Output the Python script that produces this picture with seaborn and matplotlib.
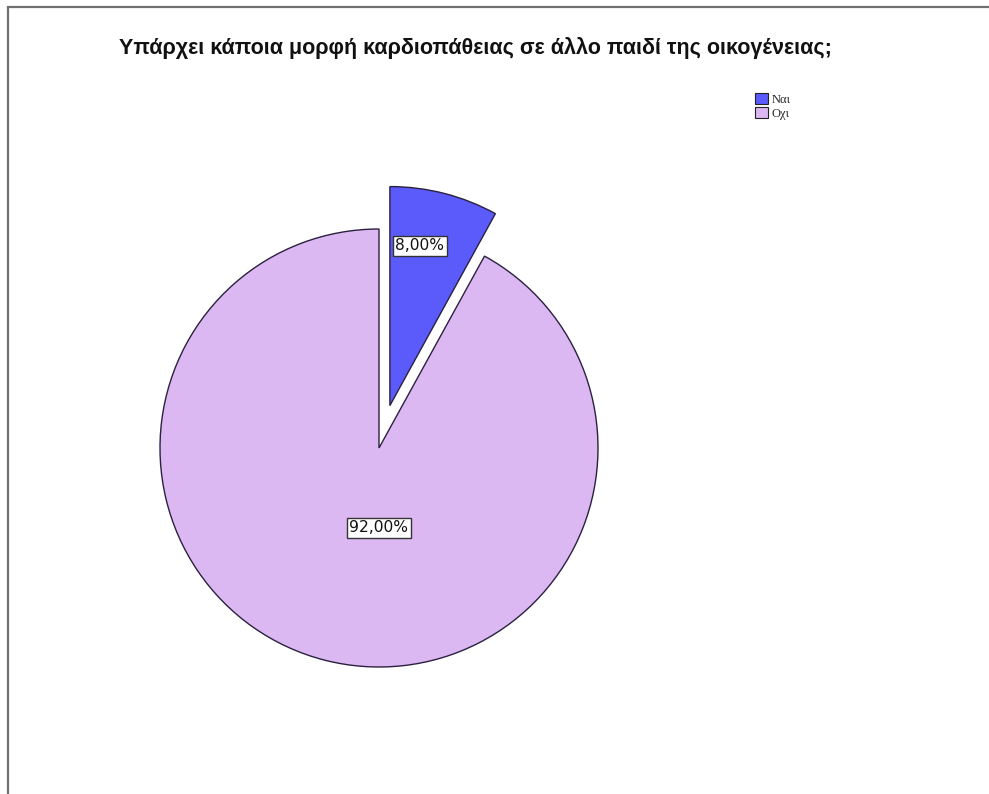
import matplotlib
matplotlib.use("Agg")
import matplotlib.pyplot as plt
from matplotlib.patches import Rectangle
import seaborn as sns

sns.set_theme(style="white")
plt.rcParams["font.family"] = ["Liberation Sans", "DejaVu Sans"]

title = "Υπάρχει κάποια μορφή καρδιοπάθειας σε άλλο παιδί της οικογένειας;"
categories = ["Ναι", "Οχι"]
percentages = [8.0, 92.0]
colors = ["#5b5bfc", "#dcb8f2"]
explode = [0.2, 0.0]  # fraction of the radius

W, H = 989, 794
fig = plt.figure(figsize=(W / 100, H / 100), dpi=100)
ax = fig.add_axes([0, 0, 1, 1])

cx, cy, r = 379, H - 448, 219


def fmt(p):
    return f"{p:.2f}".replace(".", ",") + "%"


wedges, texts, autotexts = ax.pie(
    percentages,
    colors=colors,
    explode=[e * r for e in explode],
    startangle=90,
    counterclock=False,
    radius=r,
    center=(cx, cy),
    autopct=fmt,
    pctdistance=0.74,
    frame=True,
    wedgeprops=dict(edgecolor="#2b2040", linewidth=1.0),
    textprops=dict(fontsize=11.2, color="#111111", family=["DejaVu Sans"]),
)

# label placement relative to each wedge's own centre
wx, wy = wedges[0].center
autotexts[0].set_position((wx + 0.137 * r, wy + 0.73 * r))
autotexts[1].set_position((cx, cy - 0.365 * r))
for t in autotexts:
    t.set_bbox(dict(facecolor="white", edgecolor="#333333", boxstyle="square,pad=0.15", linewidth=1.0))

ax.set_xlim(0, W)
ax.set_ylim(0, H)
ax.set_aspect("equal")
ax.axis("off")

fig.text(475 / W, 1 - 48 / H, title, ha="center", va="center",
         fontsize=15.5, fontweight="bold", color="#111111")

leg = fig.legend(
    wedges, categories,
    loc="upper left",
    bbox_to_anchor=(749 / W, 1 - 87 / H),
    frameon=False,
    prop=dict(family=["Liberation Serif", "DejaVu Serif"], size=9),
    handlelength=1.0, handleheight=1.0,
    handletextpad=0.3, labelspacing=0.05, borderpad=0.0,
)
for h in leg.legend_handles:
    h.set_edgecolor("#222222")
    h.set_linewidth(0.8)

# outer frame of the chart area
fig.add_artist(Rectangle((8 / W, -0.1), 1.2, (H - 7) / H + 0.1,
                         transform=fig.transFigure, fill=False,
                         edgecolor="#707070", linewidth=1.6, clip_on=False))

fig.savefig("out.png", dpi=100)
